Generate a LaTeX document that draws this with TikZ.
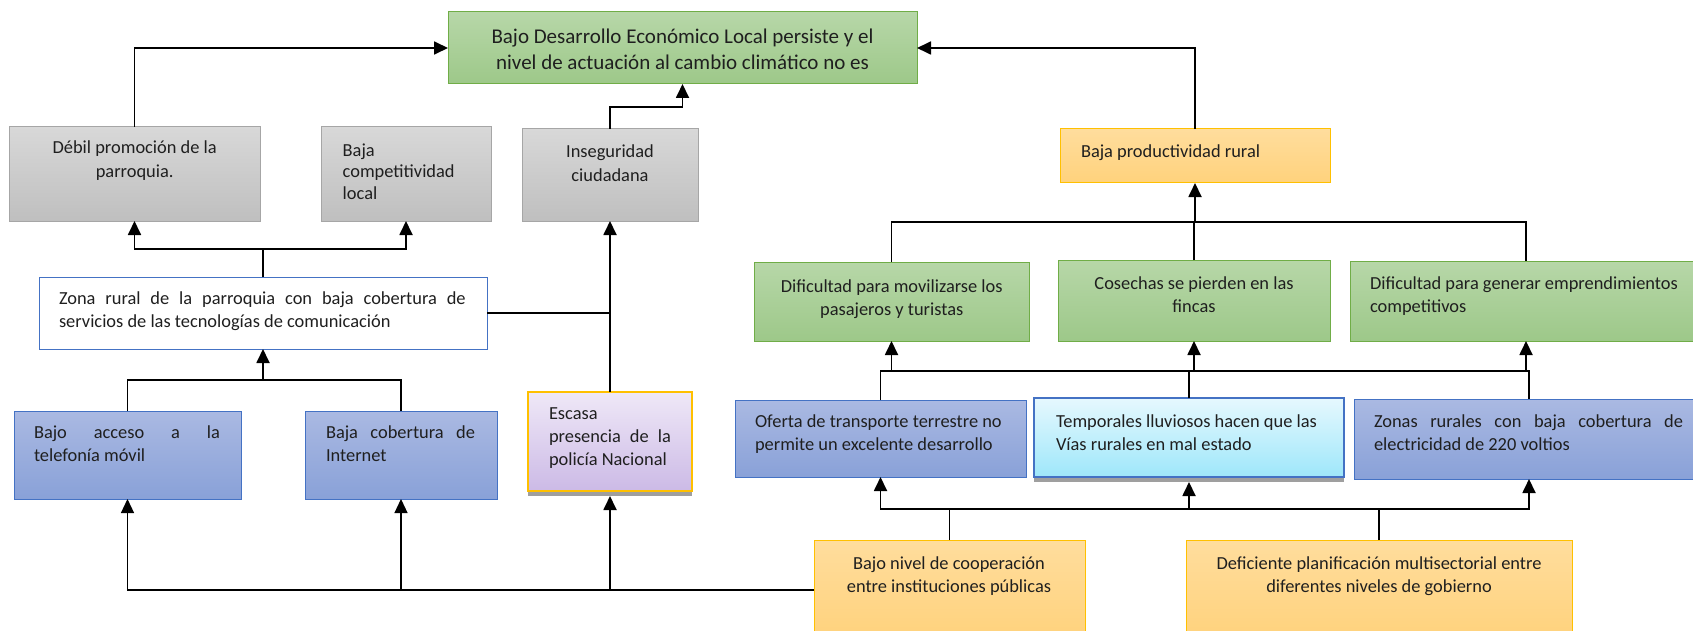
\documentclass[tikz,border=0pt]{standalone}
\usepackage{fontspec}
\setmainfont{Carlito}
\usetikzlibrary{arrows.meta,shadows}
\definecolor{greenTop}{RGB}{183,215,168}
\definecolor{greenBot}{RGB}{157,200,137}
\definecolor{greenLine}{RGB}{112,173,71}
\definecolor{greyTop}{RGB}{216,216,216}
\definecolor{greyBot}{RGB}{191,191,191}
\definecolor{greyLine}{RGB}{166,166,166}
\definecolor{blueTop}{RGB}{170,185,226}
\definecolor{blueBot}{RGB}{137,161,216}
\definecolor{blueLine}{RGB}{68,114,196}
\definecolor{lilacTop}{RGB}{239,232,247}
\definecolor{lilacBot}{RGB}{204,186,230}
\definecolor{goldLine}{RGB}{255,192,0}
\definecolor{orTop}{RGB}{255,221,157}
\definecolor{orBot}{RGB}{255,210,124}
\definecolor{cyanTop}{RGB}{230,248,254}
\definecolor{cyanBot}{RGB}{158,231,250}
\newcommand{\jl}[2]{\makebox[#1][s]{#2}}
\newcommand{\sr}{\rule{0pt}{15pt}}
\newcommand{\srt}{\rule{0pt}{18pt}}
\begin{document}
\begin{tikzpicture}[x=1pt,y=-1pt,
  box/.style={draw, line width=1pt, inner sep=0pt, outer sep=0pt},
  greenbox/.style={box, draw=greenLine, top color=greenTop, bottom color=greenBot},
  greybox/.style={box, draw=greyLine, top color=greyTop, bottom color=greyBot},
  bluebox/.style={box, draw=blueLine, top color=blueTop, bottom color=blueBot},
  whitebox/.style={box, draw=blueLine, fill=white},
  lilacbox/.style={box, draw=goldLine, line width=1.5pt, top color=lilacTop, bottom color=lilacBot,
     drop shadow={shadow xshift=0pt, shadow yshift=-5pt, fill=gray!75, opacity=1}},
  orangebox/.style={box, draw=goldLine, top color=orTop, bottom color=orBot},
  cyanbox/.style={box, draw=blueLine, line width=1.5pt, top color=cyanTop, bottom color=cyanBot,
     drop shadow={shadow xshift=0pt, shadow yshift=-5pt, fill=gray!75, opacity=1}},
  txt/.style={inner sep=0pt, outer sep=0pt, text=black!88, font=\fontsize{18.4}{23.3}\selectfont},
  ctxt/.style={txt, align=center, anchor=north},
  ltxt/.style={txt, align=left, anchor=north west},
  conn/.style={line width=1.8pt},
  thinconn/.style={line width=1.2pt},
  arr/.style={conn, -{Triangle[length=14pt,width=13pt]}},
  thinarr/.style={thinconn, -{Triangle[length=14pt,width=13pt]}},
]
\useasboundingbox (0,0) rectangle (1693,631);
\fill[white] (0,0) rectangle (1693,631);

% boxes
\node[greenbox, minimum width=469pt, minimum height=72pt] (title) at (682.5,48) {};
\node[greybox, minimum width=251pt, minimum height=94pt] (debil) at (134.5,174) {};
\node[greybox, minimum width=170pt, minimum height=94pt] (bcomp) at (406,174) {};
\node[greybox, minimum width=176pt, minimum height=92pt] (inseg) at (610,175) {};
\node[orangebox, minimum width=270pt, minimum height=54pt] (bprod) at (1195,156) {};
\node[whitebox, minimum width=448pt, minimum height=72pt] (zona) at (263,313) {};
\node[bluebox, minimum width=227pt, minimum height=88pt] (bacc) at (127.5,455) {};
\node[bluebox, minimum width=192pt, minimum height=88pt] (binet) at (401,455) {};
\node[lilacbox, minimum width=164pt, minimum height=99pt] (escasa) at (610,441.5) {};
\node[greenbox, minimum width=275pt, minimum height=79pt] (difmov) at (891.5,301.5) {};
\node[greenbox, minimum width=272pt, minimum height=81pt] (cosech) at (1194,300.5) {};
\node[greenbox, minimum width=352pt, minimum height=80pt] (difgen) at (1526,301) {};
\node[bluebox, minimum width=291pt, minimum height=77pt] (oferta) at (880.5,438.5) {};
\node[cyanbox, minimum width=310pt, minimum height=79pt] (temp) at (1189,437.5) {};
\node[bluebox, minimum width=350pt, minimum height=80pt] (zonas) at (1529,439) {};
\node[orangebox, minimum width=271pt, minimum height=100pt] (bnivel) at (949.5,590) {};
\node[orangebox, minimum width=386pt, minimum height=100pt] (defic) at (1379,590) {};

% texts
\node[ctxt, font=\fontsize{21}{26}\selectfont] (ttitle) at (682.5,25.5) {\srt Bajo Desarrollo Económico Local persiste y el\\nivel de actuación al cambio climático no es};
\node[ctxt] (tdebil) at (134.7,139) {\sr Débil promoción de la\\parroquia.};
\node[ltxt, font=\fontsize{18.4}{21.7}\selectfont] (tbcomp) at (342.7,141) {\sr Baja\\competitividad\\local};
\node[ctxt] (tinseg) at (610,143) {\sr Inseguridad\\ciudadana};
\node[ltxt] (tbprod) at (1081,142.5) {\sr Baja productividad rural};
\node[ltxt] (tzona) at (59,289) {\sr\jl{406.7pt}{Zona rural de la parroquia con baja cobertura de}\\servicios de las tecnologías de comunicación};
\node[ltxt] (tbacc) at (34,423.5) {\sr\jl{186pt}{Bajo acceso a la}\\telefonía móvil};
\node[ltxt] (tbinet) at (326,423.5) {\sr\jl{149pt}{Baja cobertura de}\\Internet};
\node[ltxt, font=\fontsize{18.4}{23}\selectfont] (tescasa) at (549,404.5) {\sr Escasa\\\jl{122pt}{presencia de la}\\policía Nacional};
\node[ctxt] (tdifmov) at (891.7,277) {\sr Dificultad para movilizarse los\\pasajeros y turistas};
\node[ctxt] (tcosech) at (1194,274) {\sr Cosechas se pierden en las\\fincas};
\node[ltxt] (tdifgen) at (1370,274) {\sr Dificultad para generar emprendimientos\\competitivos};
\node[ltxt] (toferta) at (755,412.5) {\sr Oferta de transporte terrestre no\\permite un excelente desarrollo};
\node[ltxt] (ttemp) at (1056,412.5) {\sr Temporales lluviosos hacen que las\\Vías rurales en mal estado};
\node[ltxt] (tzonas) at (1374,412.5) {\sr\jl{309pt}{Zonas rurales con baja cobertura de}\\electricidad de 220 voltios};
\node[ctxt] (tbnivel) at (949,554) {\sr Bajo nivel de cooperación\\entre instituciones públicas};
\node[ctxt] (tdefic) at (1379,554.5) {\sr Deficiente planificación multisectorial entre\\diferentes niveles de gobierno};

% junction coordinates
\coordinate (jz) at (263,249);
\coordinate (jb) at (263,380);
\coordinate (hmid) at (0,509);
\coordinate (hr) at (0,371);
\coordinate (ht) at (0,222);

% connectors, left part
\draw[arr] (debil.north) |- (title.west);
\draw[arr] (inseg.north) -- ++(0,-22) -| (title.south);
\draw[arr] (bprod.north) |- (title.east);
\draw[conn] (zona.north) -- (jz);
\draw[arr] (jz) -| (debil.south);
\draw[arr] (jz) -| (bcomp.south);
\draw[thinconn] (zona.east) -- (zona.east -| escasa.north);
\draw[arr] (escasa.north) -- (inseg.south);
\draw[conn] (bacc.north) |- (jb) -| (binet.north);
\draw[arr] (jb) -- (zona.south);
\draw[thinarr] (bnivel.west -| binet.south) -| (bacc.south);
\draw[thinarr] (bnivel.west -| escasa.south) -| (binet.south);
\draw[arr] (bnivel.west) -| ([yshift=-5pt]escasa.south);

% connectors, right part
\draw[conn] (bnivel.north) -- (bnivel.north |- hmid);
\draw[arr] (bnivel.north |- hmid) -| (oferta.south);
\draw[arr] (bnivel.north |- hmid) -| (zonas.south);
\draw[arr] (temp.south |- hmid) -- ([yshift=-5pt]temp.south);
\draw[conn] (defic.north) -- (defic.north |- hmid);
\draw[conn] (oferta.north) |- (zonas.north |- hr) -- (zonas.north);
\draw[conn] (temp.north) -- (temp.north |- hr);
\draw[arr] (difmov.south |- hr) -- (difmov.south);
\draw[arr] (cosech.south |- hr) -- (cosech.south);
\draw[arr] (difgen.south |- hr) -- (difgen.south);
\draw[conn] (difmov.north) |- (difgen.north |- ht) -- (difgen.north);
\draw[conn] (cosech.north) -- (cosech.north |- ht);
\draw[arr] (bprod.south |- ht) -- (bprod.south);
\end{tikzpicture}
\end{document}
